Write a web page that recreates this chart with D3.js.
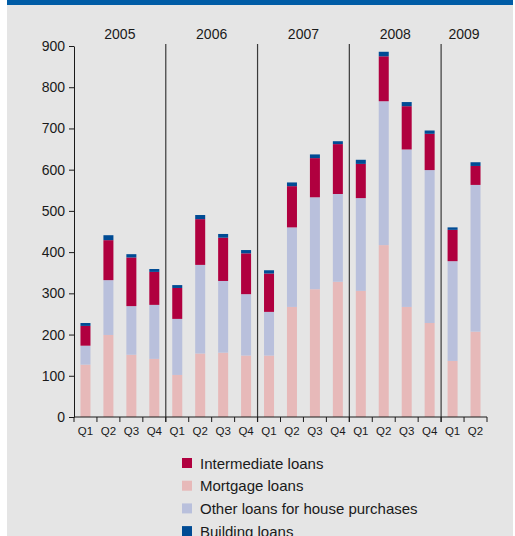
<!DOCTYPE html>
<html>
<head>
<meta charset="utf-8">
<style>
  body { margin: 0; background: #fff; }
  svg { display: block; font-family: "Liberation Sans", Arial, sans-serif; }
</style>
</head>
<body>
<svg width="515" height="536"></svg>
<script src="https://d3js.org/d3.v7.min.js"></script>
<script>

// data (stack order bottom -> top)
var years = ["2005", "2006", "2007", "2008", "2009"];
var quarters = ["2005 Q1","2005 Q2","2005 Q3","2005 Q4",
                "2006 Q1","2006 Q2","2006 Q3","2006 Q4",
                "2007 Q1","2007 Q2","2007 Q3","2007 Q4",
                "2008 Q1","2008 Q2","2008 Q3","2008 Q4",
                "2009 Q1","2009 Q2"];
var mortgage     = [127,199,151,141, 102,154,156,149, 149,267,310,328, 306,417,267,228, 136,207];
var otherHouse   = [ 46,133,118,131, 136,215,174,149, 106,193,223,213, 225,349,382,371, 242,356];
var intermediate = [ 48, 97,118, 80,  75,111,105, 99,  93,100, 95,121,  83,109,105, 88,  76, 46];
var building     = [  7, 12,  8,  7,   7, 10,  9,  8,   8,  9,  9,  7,  10, 11, 10,  8,   6,  9];
var yTicks = [0,100,200,300,400,500,600,700,800,900];

var seriesNames = ["Mortgage loans", "Other loans for house purchases", "Intermediate loans", "Building loans"];
var colors = {
  "Mortgage loans": "#e7b9b9",
  "Other loans for house purchases": "#b9c0dc",
  "Intermediate loans": "#b0003f",
  "Building loans": "#004b94"
};
var legendOrder = ["Intermediate loans", "Mortgage loans", "Other loans for house purchases", "Building loans"];

var rows = quarters.map(function(q, i) {
  return {
    q: q,
    "Mortgage loans": mortgage[i],
    "Other loans for house purchases": otherHouse[i],
    "Intermediate loans": intermediate[i],
    "Building loans": building[i]
  };
});

var svg = d3.select("svg");

// background panel + blue strip
svg.append("rect").attr("x", 7).attr("y", 0).attr("width", 506).attr("height", 536).attr("fill", "#e5e5e5");
svg.append("rect").attr("x", 7).attr("y", 0).attr("width", 506).attr("height", 5).attr("fill", "#005ca6");

var plotLeft = 74, plotRight = 487, plotTop = 46, plotBottom = 417;

var x = d3.scaleBand().domain(quarters).range([plotLeft, plotRight]).paddingInner(0).paddingOuter(0);
var y = d3.scaleLinear().domain([0, 900]).range([plotBottom, plotTop]);
var barW = 10;

var stack = d3.stack().keys(seriesNames)(rows);

svg.append("g")
  .selectAll("g")
  .data(stack)
  .join("g")
    .attr("fill", function(d) { return colors[d.key]; })
  .selectAll("rect")
  .data(function(d) { return d; })
  .join("rect")
    .attr("x", function(d) { return x(d.data.q) + x.bandwidth() / 2 - barW / 2; })
    .attr("width", barW)
    .attr("y", function(d) { return y(d[1]); })
    .attr("height", function(d) { return y(d[0]) - y(d[1]); });

// year dividers
var yearStart = years.map(function(yr) { return x(yr + " Q1"); });
svg.append("g")
  .selectAll("line")
  .data(yearStart.slice(1))
  .join("line")
    .attr("x1", function(d) { return d; })
    .attr("x2", function(d) { return d; })
    .attr("y1", 44)
    .attr("y2", plotBottom + 5)
    .attr("stroke", "#3a3a3a")
    .attr("stroke-width", 1.2);

// year labels
svg.append("g")
  .selectAll("text")
  .data(years)
  .join("text")
    .attr("x", function(d) {
      var qs = quarters.filter(function(q) { return q.indexOf(d) === 0; });
      return (x(qs[0]) + x(qs[qs.length - 1]) + x.bandwidth()) / 2;
    })
    .attr("y", 39)
    .attr("text-anchor", "middle")
    .attr("font-size", 14)
    .attr("fill", "#1a1a1a")
    .text(function(d) { return d; });

// y axis
var yAxis = svg.append("g")
  .attr("transform", "translate(" + plotLeft + ",0)")
  .call(d3.axisLeft(y).tickValues(yTicks).tickSize(5).tickSizeOuter(0).tickPadding(4));
yAxis.select(".domain").attr("stroke", "#1a1a1a");
yAxis.selectAll(".tick line").attr("stroke", "#1a1a1a");
yAxis.selectAll("text").attr("font-size", 14).attr("fill", "#1a1a1a").attr("font-family", "Liberation Sans, Arial, sans-serif");

// x axis: ticks at band boundaries
var xAxis = svg.append("g").attr("transform", "translate(0," + plotBottom + ")");
xAxis.append("line").attr("x1", plotLeft).attr("x2", plotRight).attr("stroke", "#1a1a1a");
var bounds = quarters.map(function(q) { return x(q); }).concat([plotRight]);
xAxis.selectAll("line.tk")
  .data(bounds)
  .join("line")
    .attr("class", "tk")
    .attr("x1", function(d) { return d; })
    .attr("x2", function(d) { return d; })
    .attr("y1", 0).attr("y2", 5)
    .attr("stroke", "#1a1a1a");
xAxis.selectAll("text")
  .data(quarters)
  .join("text")
    .attr("x", function(d) { return x(d) + x.bandwidth() / 2; })
    .attr("y", 18)
    .attr("text-anchor", "middle")
    .attr("font-size", 11.5)
    .attr("fill", "#1a1a1a")
    .text(function(d) { return d.split(" ")[1]; });

// legend
var legend = svg.append("g").attr("transform", "translate(182,463)");
var li = legend.selectAll("g")
  .data(legendOrder)
  .join("g")
    .attr("transform", function(d, i) { return "translate(0," + (i * 22.7) + ")"; });
li.append("rect").attr("x", 0).attr("y", -5).attr("width", 10).attr("height", 10)
  .attr("fill", function(d) { return colors[d]; });
li.append("text").attr("x", 18).attr("y", 5.5)
  .attr("font-size", 15)
  .attr("fill", "#1a1a1a")
  .text(function(d) { return d; });

</script>
</body>
</html>
